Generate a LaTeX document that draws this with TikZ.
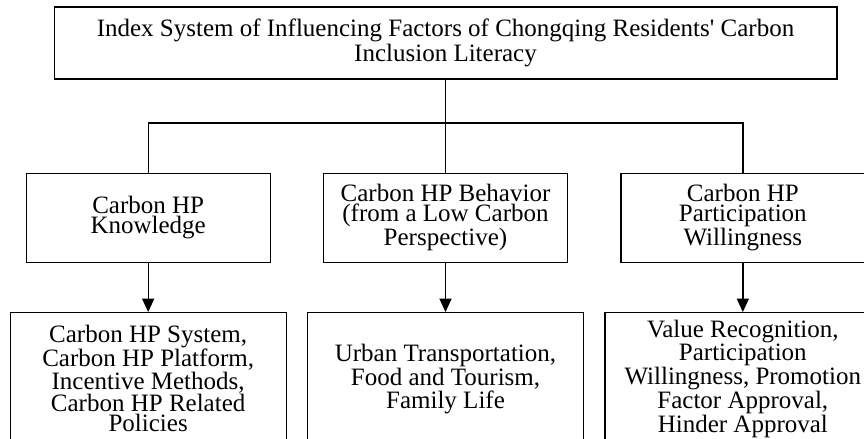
\documentclass[tikz,border=0pt]{standalone}
\usepackage{fontspec}
\setmainfont{Liberation Serif}
\usetikzlibrary{positioning, arrows.meta}

\begin{document}
\begin{tikzpicture}[
     x=0.75pt, y=-0.75pt,
     node distance = 69.75pt and 39pt,
every node/.style = {font=\fontsize{18.75}{15}\selectfont},
        box/.style = {rectangle, draw, line width=1pt, align=center, inner sep=2pt},
     topbox/.style = {box, minimum width=587pt, minimum height=54pt, font=\fontsize{18.75}{19}\selectfont},
     midbox/.style = {box, minimum width=183pt, minimum height=66.75pt},
     lowbox/.style = {box, minimum width=207pt, minimum height=99pt},
       link/.style = {line width=1pt},
        arr/.style = {link, -{Triangle[length=10pt, width=9pt]}}
                        ]
\clip (0,0) rectangle (864,439);
\node (index) [topbox] at (445.5,43) {Index System of Influencing Factors of Chongqing Residents\textquotesingle{} Carbon\\Inclusion Literacy};
\node (behav) [midbox,below =of index] {Carbon HP Behavior\\(from a Low Carbon\\Perspective)};
\node (knowl) [midbox,left =of behav] {Carbon HP\\Knowledge};
\node (partic) [midbox,right =of behav] {Carbon HP\\Participation\\Willingness};
\node (knowlitems) [lowbox,below =36.75pt of knowl] {Carbon HP System,\\Carbon HP Platform,\\Incentive Methods,\\Carbon HP Related\\Policies};
\node (behavitems) [lowbox,below =36.75pt of behav] {Urban Transportation,\\Food and Tourism,\\Family Life};
\node (particitems) [lowbox,below =36.75pt of partic] {Value Recognition,\\Participation\\Willingness, Promotion\\Factor Approval,\\Hinder Approval};
\coordinate (split) at (445.5,123);
\draw[link] (index) to (behav);
\draw[link] (knowl.north) |- (split) -| (partic.north);
\draw[arr] (knowl) to (knowlitems);
\draw[arr] (behav) to (behavitems);
\draw[arr] (partic) to (particitems);
\end{tikzpicture}
\end{document}
